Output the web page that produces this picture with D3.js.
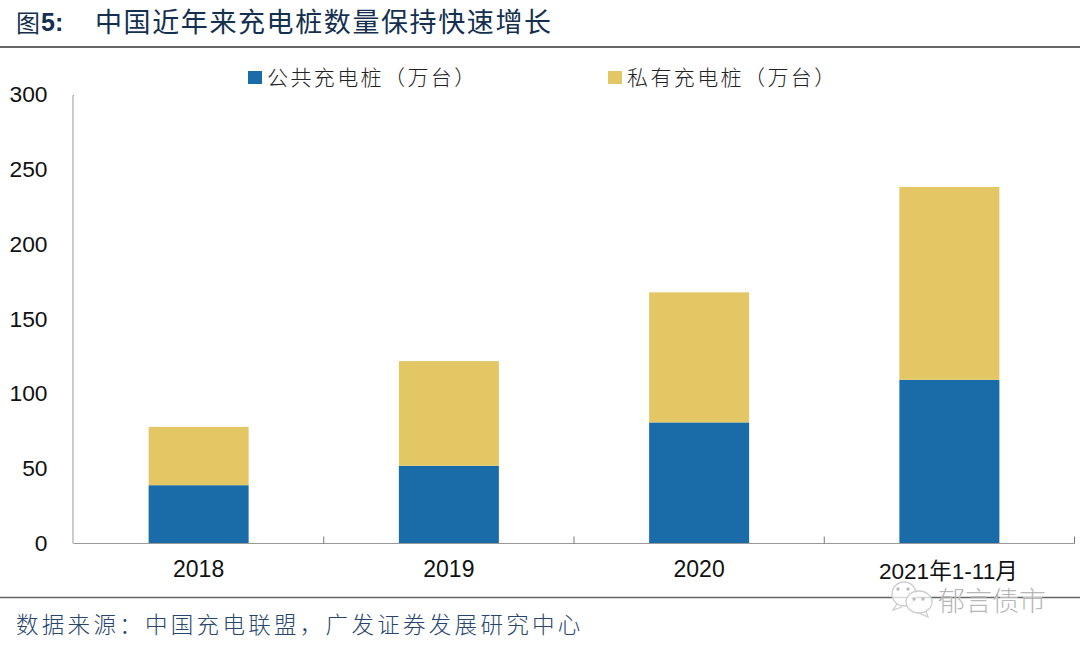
<!DOCTYPE html>
<html><head><meta charset="utf-8">
<script src="https://cdn.jsdelivr.net/npm/d3@7/dist/d3.min.js"></script>
<style>html,body{margin:0;padding:0;background:#fff}svg{display:block}</style>
</head><body>
<script>
const categories = ["2018","2019","2020","2021年1-11月"];
const publicPiles = [39,52,81,109.5];
const privatePiles = [39,70,87,129];
const seriesNames = ["公共充电桩（万台）","私有充电桩（万台）"];
const yTicks = [0,50,100,150,200,250,300];
const colors = ["#1a6ca8","#e3c764"];
const titlePrefix = "图", titleNum = "5:", titleText = "中国近年来充电桩数量保持快速增长";
const sourceText = "数据来源：中国充电联盟，广发证券发展研究中心";
const watermark = "郁言债市";

const W=1080,H=649;
const cjk='"Noto Sans CJK SC","Noto Sans CJK JP",sans-serif', lat='"Liberation Sans",Arial,sans-serif';
const svg=d3.select("body").append("svg").attr("width",W).attr("height",H);
const x=d3.scaleBand().domain(categories).range([73.5,1074.5]).paddingInner(0).paddingOuter(0);
const y=d3.scaleLinear().domain([0,300]).range([543.5,95]);
const barW=100;
const cx=d=>x(d)+x.bandwidth()/2;

// title
svg.append("text").attr("x",16).attr("y",32).attr("font-family",cjk).attr("font-size",24).attr("fill","#14304f").text(titlePrefix);
svg.append("text").attr("x",41).attr("y",31).attr("font-family",lat).attr("font-weight","bold").attr("font-size",25).attr("fill","#14304f").text(titleNum);
svg.append("text").attr("x",95).attr("y",32).attr("font-family",cjk).attr("font-size",27).attr("letter-spacing",1.6).attr("fill","#14304f").text(titleText);
svg.append("line").attr("x1",0).attr("x2",W).attr("y1",47).attr("y2",47).attr("stroke","#333").attr("stroke-width",1.5);

// bars
const g=svg.append("g");
g.selectAll(".pub").data(categories).join("rect").attr("x",d=>cx(d)-barW/2).attr("width",barW)
 .attr("y",(d,i)=>y(publicPiles[i])).attr("height",(d,i)=>y(0)-y(publicPiles[i])).attr("fill",colors[0]);
g.selectAll(".pri").data(categories).join("rect").attr("x",d=>cx(d)-barW/2).attr("width",barW)
 .attr("y",(d,i)=>y(publicPiles[i]+privatePiles[i])).attr("height",(d,i)=>y(0)-y(privatePiles[i])).attr("fill",colors[1]);

// axes
const yAxis=d3.axisLeft(y).tickValues(yTicks).tickSize(0).tickPadding(26);
const ya=svg.append("g").attr("transform","translate(73.5,-0.5)").call(yAxis);
ya.select(".domain").attr("stroke","#999").attr("d","M0.5,96H-0.5V544");
ya.selectAll("text").attr("font-family",lat).attr("font-size",22.8).attr("fill","#111").attr("dy","0.32em");
const xa=svg.append("g").attr("transform","translate(0,543.5)");
xa.append("line").attr("x1",73.5).attr("x2",1074.5).attr("stroke","#999").attr("stroke-width",1.2);
const bounds=categories.map(d=>x(d)+x.bandwidth());
xa.selectAll(".t").data(bounds).join("line").attr("x1",d=>d).attr("x2",d=>d).attr("y1",-7).attr("y2",0).attr("stroke","#777");
svg.selectAll(".xl").data(categories).join("text").attr("x",(d,i)=>cx(d)-(i==3?1:0)).attr("y",(d,i)=>i==3?579:577).attr("text-anchor","middle")
 .attr("font-family",`${lat.split(",")[0]},"Noto Sans CJK SC",sans-serif`).attr("font-size",(d,i)=>i==3?22.6:23).attr("fill","#111").text(d=>d);

// legend
const lx=[248,608];
seriesNames.forEach((n,i)=>{
  svg.append("rect").attr("x",lx[i]).attr("y",71).attr("width",14).attr("height",13).attr("fill",colors[i]);
  svg.append("text").attr("x",lx[i]+19).attr("y",84.5).attr("font-family",cjk).attr("font-size",21).attr("font-weight",300)
    .attr("letter-spacing",2.4).attr("fill","#222").text(n);
});

// footer
svg.append("line").attr("x1",0).attr("x2",W).attr("y1",597.5).attr("y2",597.5).attr("stroke","#666").attr("stroke-width",1.5);
svg.append("text").attr("x",16).attr("y",633).attr("font-family",cjk).attr("font-size",22.5).attr("font-weight",300)
  .attr("letter-spacing",3.3).attr("fill","#27466b").text(sourceText);

// watermark
const wm=svg.append("g");
const bubble=(cx0,cy0,rx,ry,tail)=>{
  wm.append("ellipse").attr("cx",cx0).attr("cy",cy0).attr("rx",rx).attr("ry",ry).attr("fill","#fff").attr("fill-opacity",.75).attr("stroke","#ccc").attr("stroke-width",1.3);
  wm.append("path").attr("d",tail).attr("fill","none").attr("stroke","#ccc").attr("stroke-width",1.3);
};
bubble(904,594,12,12,"M897,604L893,610L902,607");
bubble(919,602,13,11,"M926,611L928,617L919,613");
[[898,589],[908,589],[914,599],[923,599]].forEach(p=>wm.append("circle").attr("cx",p[0]).attr("cy",p[1]).attr("r",1.7).attr("fill","#bbb"));
svg.append("text").attr("x",938).attr("y",611).attr("font-family",cjk).attr("font-size",27).attr("font-weight",300)
  .attr("fill","#999").attr("stroke","#fff").attr("stroke-width",.3).text(watermark);
</script>
</body></html>
